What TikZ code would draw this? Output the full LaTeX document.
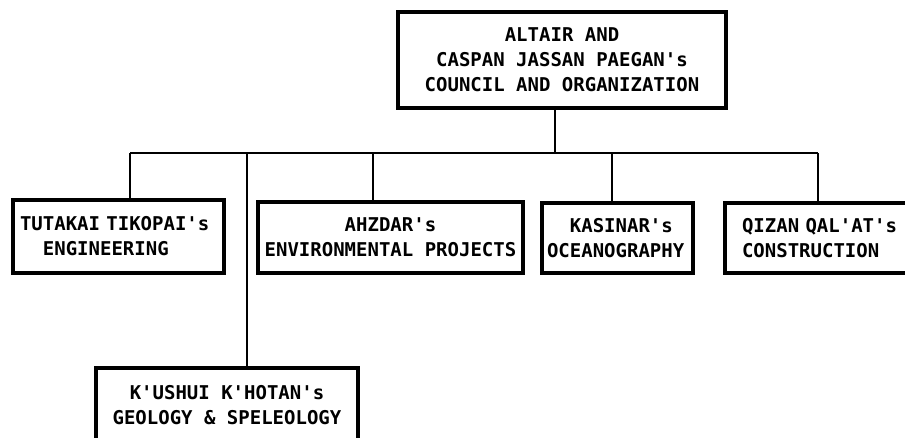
\documentclass[tikz,border=0pt]{standalone}
\usepackage{fontspec}
\newfontfamily\tw{DejaVu Sans Mono}[BoldFont={DejaVu Sans Mono Bold}]
\begin{document}
\begin{tikzpicture}[x=1pt,y=-1pt,
  box/.style={draw=black, line width=3.5pt, rectangle, inner ysep=0pt,
    font={\tw\bfseries\fontsize{19}{25}\selectfont}},
  conn/.style={draw=black, line width=1.8pt}]
\useasboundingbox (0,0) rectangle (905,437);
\fill[white] (0,0) rectangle (905,437);
\clip (0,0) rectangle (905,437);
% top box 398-726, 12-108
\node[box, minimum width=328pt, minimum height=96pt, align=center] (top) at (562,60)
  {ALTAIR AND\\\mbox{CASPAN JASSAN PAEGAN's}\\\mbox{COUNCIL AND ORGANIZATION}};
% children
\node[box, minimum width=211pt, minimum height=73pt, inner xsep=7pt, text width=197pt, align=left] (tut) at (118.5,236.5)
  {\mbox{TUTAKAI TIKOPAI's}\\\phantom{XX}ENGINEERING};
\node[box, minimum width=265pt, minimum height=71pt, align=center] (ahz) at (390.5,237.5)
  {AHZDAR's\\\mbox{ENVIRONMENTAL PROJECTS}};
\node[box, minimum width=151pt, minimum height=70pt, inner xsep=5pt, text width=141pt, align=left] (kas) at (617.5,238)
  {\phantom{XX}KASINAR's\\OCEANOGRAPHY};
\node[box, minimum width=200pt, minimum height=70pt, inner xsep=17pt, text width=166pt, align=left] (qiz) at (825,238)
  {\mbox{QIZAN QAL'AT's}\\CONSTRUCTION};
\node[box, minimum width=262pt, minimum height=74pt, align=center] (kus) at (227,405)
  {\mbox{K'USHUI K'HOTAN's}\\\mbox{GEOLOGY \& SPELEOLOGY}};
% bus coordinates
\coordinate (bt) at (555,153);
\coordinate (b1) at (130,153);
\coordinate (b2) at (247,153);
\coordinate (b3) at (373,153);
\coordinate (b4) at (612,153);
\coordinate (b5) at (818,153);
\draw[conn] (b1) -- (b5);
\draw[conn] (bt) -- (bt |- top.south);
\draw[conn] (b1) -- (b1 |- tut.north);
\draw[conn] (b2) -- (b2 |- kus.north);
\draw[conn] (b3) -- (b3 |- ahz.north);
\draw[conn] (b4) -- (b4 |- kas.north);
\draw[conn] (b5) -- (b5 |- qiz.north);
\end{tikzpicture}
\end{document}
